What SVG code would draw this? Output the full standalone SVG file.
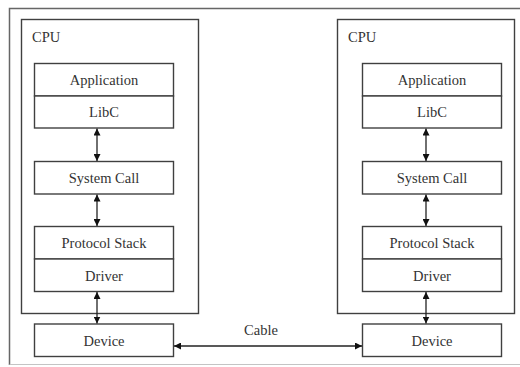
<svg xmlns="http://www.w3.org/2000/svg" width="520" height="367" viewBox="0 0 520 367">
<defs>
<style>
.box{fill:#fff;stroke:#404040;stroke-width:1.4}
text.t{font-family:'Liberation Serif',serif !important;font-size:14.5px;fill:#333;text-anchor:middle}
text.lbl{font-family:'Liberation Serif',serif !important;font-size:14.5px;fill:#333}
.c{stroke:#222;stroke-width:1.3;fill:none;marker-start:url(#ah);marker-end:url(#ah)}
</style>
<marker id="ah" viewBox="0 0 10 10" refX="10" refY="5" markerWidth="7" markerHeight="7" markerUnits="userSpaceOnUse" orient="auto-start-reverse">
<path d="M0,0 L10,5 L0,10 Z" fill="#111"/>
</marker>
</defs>
<rect width="520" height="367" fill="#fff"/>
<g id="frame">
<path d="M520,8.5 H9.5 V365" fill="none" stroke="#666" stroke-width="1.5"/>
<path d="M9.5,364.5 H520" fill="none" stroke="#c4c4c4" stroke-width="1.2"/>
</g>
<g id="cpu1">
<rect class="box" x="21.5" y="19.5" width="177" height="294"/>
<text class="lbl" x="32" y="42" style="font-family:'Liberation Serif',serif">CPU</text>
</g>
<g id="app1"><rect class="box" x="34.5" y="63.5" width="139" height="32.5"/><text class="t" x="104" y="85" style="font-family:'Liberation Serif',serif">Application</text></g>
<g id="libc1"><rect class="box" x="34.5" y="96" width="139" height="32"/><text class="t" x="104" y="117" style="font-family:'Liberation Serif',serif">LibC</text></g>
<g id="sys1"><rect class="box" x="34.5" y="161.5" width="139" height="32.5"/><text class="t" x="104" y="183" style="font-family:'Liberation Serif',serif">System Call</text></g>
<g id="proto1"><rect class="box" x="34.5" y="226.5" width="139" height="32.5"/><text class="t" x="104" y="248" style="font-family:'Liberation Serif',serif">Protocol Stack</text></g>
<g id="drv1"><rect class="box" x="34.5" y="259" width="139" height="32.5"/><text class="t" x="104" y="281" style="font-family:'Liberation Serif',serif">Driver</text></g>
<g id="dev1"><rect class="box" x="34.5" y="324" width="139" height="32.5"/><text class="t" x="104" y="346" style="font-family:'Liberation Serif',serif">Device</text></g>

<g id="cpu2">
<rect class="box" x="337.5" y="19.5" width="177" height="294"/>
<text class="lbl" x="348" y="42" style="font-family:'Liberation Serif',serif">CPU</text>
</g>
<g id="app2"><rect class="box" x="362.5" y="63.5" width="139" height="32.5"/><text class="t" x="432" y="85" style="font-family:'Liberation Serif',serif">Application</text></g>
<g id="libc2"><rect class="box" x="362.5" y="96" width="139" height="32"/><text class="t" x="432" y="117" style="font-family:'Liberation Serif',serif">LibC</text></g>
<g id="sys2"><rect class="box" x="362.5" y="161.5" width="139" height="32.5"/><text class="t" x="432" y="183" style="font-family:'Liberation Serif',serif">System Call</text></g>
<g id="proto2"><rect class="box" x="362.5" y="226.5" width="139" height="32.5"/><text class="t" x="432" y="248" style="font-family:'Liberation Serif',serif">Protocol Stack</text></g>
<g id="drv2"><rect class="box" x="362.5" y="259" width="139" height="32.5"/><text class="t" x="432" y="281" style="font-family:'Liberation Serif',serif">Driver</text></g>
<g id="dev2"><rect class="box" x="362.5" y="324" width="139" height="32.5"/><text class="t" x="432" y="346" style="font-family:'Liberation Serif',serif">Device</text></g>

<g id="connectors">
<line class="c" x1="97" y1="128.5" x2="97" y2="161"/>
<line class="c" x1="97" y1="194.5" x2="97" y2="226"/>
<line class="c" x1="97" y1="292" x2="97" y2="323.5"/>
<line class="c" x1="426" y1="128.5" x2="426" y2="161"/>
<line class="c" x1="426" y1="194.5" x2="426" y2="226"/>
<line class="c" x1="426" y1="292" x2="426" y2="323.5"/>
<line class="c" x1="174" y1="346" x2="362" y2="346"/>
<text class="t" x="261" y="335" style="font-family:'Liberation Serif',serif">Cable</text>
</g>
</svg>
